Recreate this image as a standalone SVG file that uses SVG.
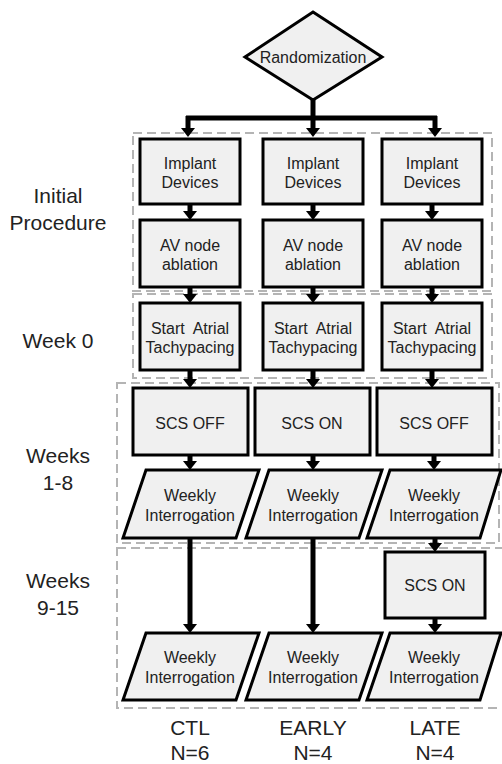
<svg xmlns="http://www.w3.org/2000/svg" width="502" height="764" viewBox="0 0 502 764">
<defs>
<style>
.n{fill:#f0f0f0;stroke:#000;stroke-width:3}
.t{font-family:"Liberation Sans",Arial,sans-serif;font-size:16px;fill:#222;text-anchor:middle}
.l{font-family:"Liberation Sans",Arial,sans-serif;font-size:21px;fill:#222;text-anchor:middle}
.d{fill:none;stroke:#b4b4b4;stroke-width:2;stroke-dasharray:9 5}
.c{fill:none;stroke:#000;stroke-width:5}
.a{fill:none;stroke:#000;stroke-width:5;marker-end:url(#ah)}
</style>
<marker id="ah" markerUnits="userSpaceOnUse" markerWidth="9" markerHeight="14" refX="0" refY="7" orient="auto" viewBox="0 0 9 14">
<path d="M0,0 L9,7 L0,14 Z" fill="#000"/>
</marker>
</defs>

<g id="phases">
<rect class="d" x="133" y="133" width="359" height="158"/>
<rect class="d" x="133" y="294" width="359" height="84"/>
<rect class="d" x="117" y="383" width="382" height="160"/>
<rect class="d" x="117" y="548" width="390" height="160"/>
</g>

<g id="connectors">
<line class="c" x1="313" y1="100" x2="313" y2="118"/>
<line class="c" x1="186" y1="118" x2="437" y2="118"/>
<line class="a" x1="188" y1="116" x2="188" y2="128"/>
<line class="a" x1="313" y1="116" x2="313" y2="128"/>
<line class="a" x1="435" y1="116" x2="435" y2="128"/>
<line class="a" x1="190" y1="204" x2="190" y2="211"/>
<line class="a" x1="313" y1="204" x2="313" y2="211"/>
<line class="a" x1="432" y1="204" x2="432" y2="211"/>
<line class="a" x1="190" y1="287" x2="190" y2="294"/>
<line class="a" x1="313" y1="287" x2="313" y2="294"/>
<line class="a" x1="432" y1="287" x2="432" y2="294"/>
<line class="a" x1="190" y1="370" x2="190" y2="379"/>
<line class="a" x1="313" y1="370" x2="313" y2="379"/>
<line class="a" x1="432" y1="370" x2="432" y2="379"/>
<line class="a" x1="190" y1="455" x2="190" y2="461"/>
<line class="a" x1="313" y1="455" x2="313" y2="461"/>
<line class="a" x1="434" y1="455" x2="434" y2="461"/>
<line class="a" x1="190" y1="538" x2="190" y2="624"/>
<line class="a" x1="313" y1="538" x2="313" y2="624"/>
<line class="a" x1="435" y1="538" x2="435" y2="543"/>
<line class="a" x1="435" y1="618" x2="435" y2="624"/>
</g>

<g id="randomization">
<polygon class="n" points="313,12 382,57 313,100 245,57"/>
<text class="t" x="313" y="63">Randomization</text>
</g>

<g id="implant1"><rect class="n" x="140" y="139" width="100" height="65"/><text class="t" x="190" y="169">Implant</text><text class="t" x="190" y="188">Devices</text></g>
<g id="implant2"><rect class="n" x="263" y="139" width="100" height="65"/><text class="t" x="313" y="169">Implant</text><text class="t" x="313" y="188">Devices</text></g>
<g id="implant3"><rect class="n" x="382" y="139" width="100" height="65"/><text class="t" x="432" y="169">Implant</text><text class="t" x="432" y="188">Devices</text></g>

<g id="av1"><rect class="n" x="140" y="220" width="100" height="67"/><text class="t" x="190" y="251">AV node</text><text class="t" x="190" y="270">ablation</text></g>
<g id="av2"><rect class="n" x="263" y="220" width="100" height="67"/><text class="t" x="313" y="251">AV node</text><text class="t" x="313" y="270">ablation</text></g>
<g id="av3"><rect class="n" x="382" y="220" width="100" height="67"/><text class="t" x="432" y="251">AV node</text><text class="t" x="432" y="270">ablation</text></g>

<g id="tach1"><rect class="n" x="140" y="303" width="100" height="67"/><text class="t" x="190" y="334" xml:space="preserve">Start  Atrial</text><text class="t" x="190" y="353">Tachypacing</text></g>
<g id="tach2"><rect class="n" x="263" y="303" width="100" height="67"/><text class="t" x="313" y="334" xml:space="preserve">Start  Atrial</text><text class="t" x="313" y="353">Tachypacing</text></g>
<g id="tach3"><rect class="n" x="382" y="303" width="100" height="67"/><text class="t" x="432" y="334" xml:space="preserve">Start  Atrial</text><text class="t" x="432" y="353">Tachypacing</text></g>

<g id="scs1"><rect class="n" x="133" y="388" width="115" height="67"/><text class="t" x="190" y="429">SCS OFF</text></g>
<g id="scs2"><rect class="n" x="255" y="388" width="115" height="67"/><text class="t" x="312" y="429">SCS ON</text></g>
<g id="scs3"><rect class="n" x="377" y="388" width="115" height="67"/><text class="t" x="434" y="429">SCS OFF</text></g>

<g id="wi1"><polygon class="n" points="146,470 259,470 236,538 123,538"/><text class="t" x="190" y="501">Weekly</text><text class="t" x="190" y="521">Interrogation</text></g>
<g id="wi2"><polygon class="n" points="269,470 382,470 359,538 246,538"/><text class="t" x="313" y="501">Weekly</text><text class="t" x="313" y="521">Interrogation</text></g>
<g id="wi3"><polygon class="n" points="390,470 501,470 480,538 367,538"/><text class="t" x="434" y="501">Weekly</text><text class="t" x="434" y="521">Interrogation</text></g>

<g id="scs4"><rect class="n" x="385" y="552" width="100" height="66"/><text class="t" x="435" y="591">SCS ON</text></g>

<g id="wi4"><polygon class="n" points="146,633 259,633 236,700 123,700"/><text class="t" x="190" y="663">Weekly</text><text class="t" x="190" y="683">Interrogation</text></g>
<g id="wi5"><polygon class="n" points="269,633 382,633 359,700 246,700"/><text class="t" x="313" y="663">Weekly</text><text class="t" x="313" y="683">Interrogation</text></g>
<g id="wi6"><polygon class="n" points="390,633 501,633 480,700 367,700"/><text class="t" x="434" y="663">Weekly</text><text class="t" x="434" y="683">Interrogation</text></g>

<g id="labels">
<text class="l" x="58" y="203">Initial</text>
<text class="l" x="58" y="230">Procedure</text>
<text class="l" x="58" y="348">Week 0</text>
<text class="l" x="58" y="463">Weeks</text>
<text class="l" x="58" y="490">1-8</text>
<text class="l" x="58" y="588">Weeks</text>
<text class="l" x="58" y="615">9-15</text>
<text class="l" x="190" y="735">CTL</text>
<text class="l" x="190" y="760">N=6</text>
<text class="l" x="313" y="735">EARLY</text>
<text class="l" x="313" y="760">N=4</text>
<text class="l" x="435" y="735">LATE</text>
<text class="l" x="435" y="760">N=4</text>
</g>
</svg>
